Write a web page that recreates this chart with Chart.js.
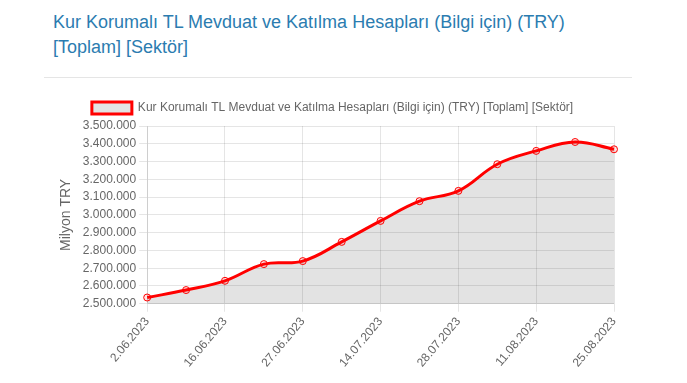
<!DOCTYPE html>
<html>
<head>
<meta charset="utf-8">
<script src="https://cdn.jsdelivr.net/npm/chart.js@4.4.0/dist/chart.umd.min.js"></script>
<style>
  body { margin: 0; background: #fff; font-family: "Liberation Sans", Arial, sans-serif; }
  .title {
    position: absolute; left: 53px; top: 10px; width: 560px;
    font-size: 18px; line-height: 25px; color: #2b7cb0;
  }
  .sep { position: absolute; left: 44px; top: 77px; width: 588px; height: 1px; background: #e5e5e5; }
  .wrap { position: absolute; left: 33px; top: 92px; width: 599px; height: 287px; }
</style>
</head>
<body>
<div class="title">Kur Korumalı TL Mevduat ve Katılma Hesapları (Bilgi için) (TRY) [Toplam] [Sektör]</div>
<div class="sep"></div>
<div class="wrap"><canvas id="chart"></canvas></div>
<script>
const seriesName = 'Kur Korumalı TL Mevduat ve Katılma Hesapları (Bilgi için) (TRY) [Toplam] [Sektör]';
const dates = ['2.06.2023', '9.06.2023', '16.06.2023', '23.06.2023', '27.06.2023', '7.07.2023', '14.07.2023',
  '21.07.2023', '28.07.2023', '4.08.2023', '11.08.2023', '18.08.2023', '25.08.2023'];
const values = [2535000, 2577000, 2629000, 2723000, 2740000, 2848000, 2966000,
  3077000, 3135000, 3285000, 3360000, 3410000, 3369000];
const yMin = 2500000;
const yMax = 3500000;
const yStep = 100000;

const fmt = v => String(v).replace(/\B(?=(\d{3})+(?!\d))/g, '.');

Chart.defaults.font.family = '"Liberation Sans", Arial, sans-serif';
Chart.defaults.color = '#666';

// a little extra room under the legend
const legendGap = {
  id: 'legendGap',
  afterInit(chart) {
    const fit = chart.legend.fit;
    chart.legend.fit = function () {
      fit.call(this);
      this.height += 2;
    };
  }
};

new Chart(document.getElementById('chart'), {
  type: 'line',
  data: {
    labels: dates,
    datasets: [{
      label: seriesName,
      data: values,
      borderColor: '#ff0000',
      backgroundColor: 'rgba(0,0,0,0.11)',
      borderWidth: 3,
      fill: true,
      tension: 0.4,
      pointRadius: 3.5,
      pointBorderWidth: 1,
      pointBorderColor: '#ff0000',
      pointBackgroundColor: 'rgba(255,0,0,0.1)'
    }]
  },
  options: {
    responsive: true,
    maintainAspectRatio: false,
    animation: false,
    layout: { padding: { left: 18, right: 18, top: 0, bottom: 6 } },
    plugins: {
      legend: {
        labels: { boxWidth: 40, boxHeight: 12, font: { size: 12 }, color: '#666' }
      },
      tooltip: { enabled: false }
    },
    scales: {
      x: {
        grid: {
          color: ctx => (ctx.index % 2 === 0 ? 'rgba(0,0,0,0.1)' : 'rgba(0,0,0,0)'),
          tickLength: 8
        },
        ticks: {
          autoSkip: false,
          maxRotation: 50,
          minRotation: 50,
          font: { size: 12 },
          callback: function (v, i) { return i % 2 === 0 ? this.getLabelForValue(v) : ''; }
        }
      },
      y: {
        min: yMin,
        max: yMax,
        grid: { color: 'rgba(0,0,0,0.1)', tickLength: 8 },
        title: {
          display: true, text: 'Milyon TRY', font: { size: 14 }, color: '#666',
          padding: { top: 7, bottom: 4 }
        },
        ticks: { stepSize: yStep, font: { size: 12 }, callback: v => fmt(v) },
        afterFit: scale => { scale.width += 1; }
      }
    }
  },
  plugins: [legendGap]
});
</script>
</body>
</html>
